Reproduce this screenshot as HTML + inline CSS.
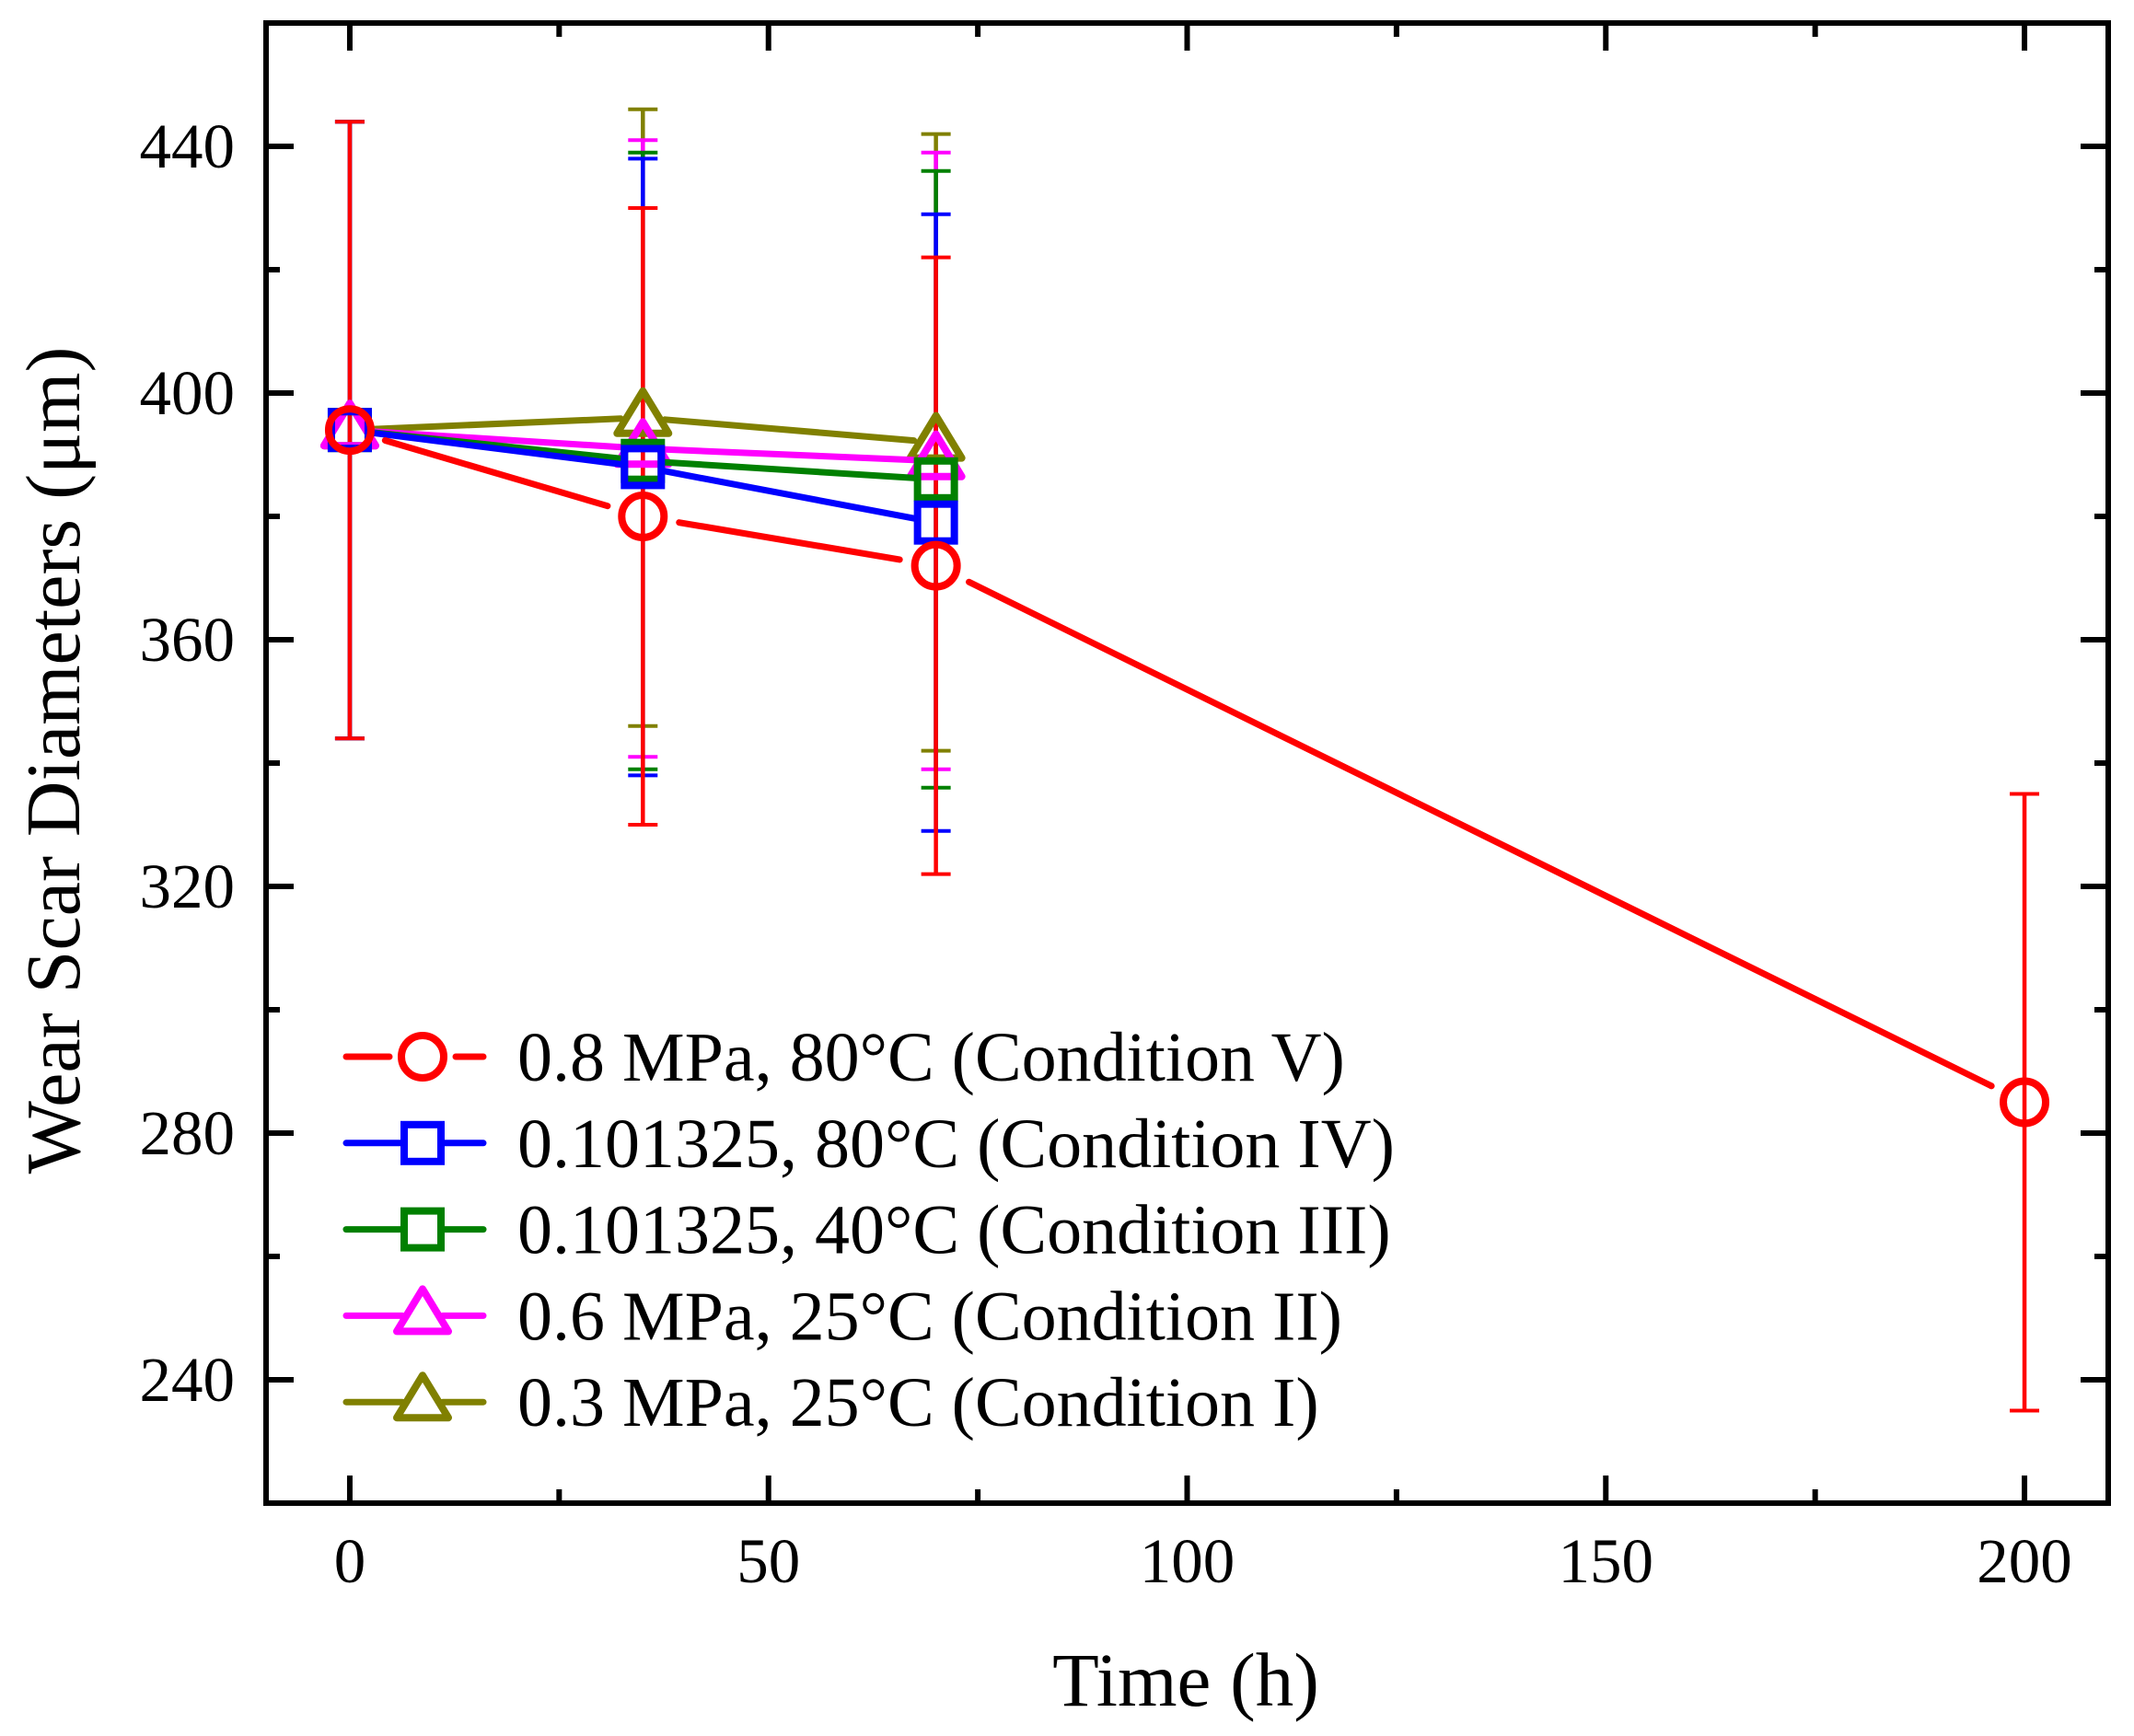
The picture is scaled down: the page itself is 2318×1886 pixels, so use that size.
<!DOCTYPE html>
<html><head><meta charset="utf-8"><style>
html,body{margin:0;padding:0;background:#fff}
svg{display:block;font-family:"Liberation Serif",serif}
</style></head><body>
<svg id="chart" width="2318" height="1886" viewBox="0 0 2318 1886"></svg>
<script>
const times = [0, 35, 70, 200];
const seriesNames = ["0.3 MPa, 25°C (Condition I)","0.6 MPa, 25°C (Condition II)","0.101325, 40°C (Condition III)","0.101325, 80°C (Condition IV)","0.8 MPa, 80°C (Condition V)"];
const condI = [394, 396, 392];
const condII = [394, 391, 389];
const condIII = [394, 389, 386];
const condIV = [394, 388, 379];
const condV = [394, 380, 372, 285];
const errI = [50, 50, 50];
const errII = [50, 50, 50];
const errIII = [50, 50, 50];
const errIV = [50, 50, 50];
const errV = [50, 50, 50, 50];
const xTicks = [0, 50, 100, 150, 200];
const yTicks = [240, 280, 320, 360, 400, 440];

const L=289,R=2290,T=25,B=1633,XMIN=-10,XMAX=210,YMIN=220,YMAX=460;
const sx=v=>L+(v-XMIN)/(XMAX-XMIN)*(R-L);
const sy=v=>B-(v-YMIN)/(YMAX-YMIN)*(B-T);
const svg=document.getElementById('chart');
const NS='http://www.w3.org/2000/svg';
function mk(tag,attrs,parent){const e=document.createElementNS(NS,tag);for(const k in attrs)e.setAttribute(k,attrs[k]);(parent||svg).appendChild(e);return e;}

const series=[
 {name:seriesNames[0],vals:condI,err:errI,color:'#808000',marker:'tri',key:'condition-1'},
 {name:seriesNames[1],vals:condII,err:errII,color:'#ff00ff',marker:'tri',key:'condition-2'},
 {name:seriesNames[2],vals:condIII,err:errIII,color:'#008000',marker:'sq',key:'condition-3'},
 {name:seriesNames[3],vals:condIV,err:errIV,color:'#0000ff',marker:'sq',key:'condition-4'},
 {name:seriesNames[4],vals:condV,err:errV,color:'#ff0000',marker:'circ',key:'condition-5'}
];

function marker(g,type,x,y,c){
  let e;
  if(type==='circ') e=mk('circle',{cx:x,cy:y,r:23,fill:'none',stroke:c,'stroke-width':8},g);
  else if(type==='sq') e=mk('rect',{x:x-20,y:y-20,width:40,height:40,fill:'none',stroke:c,'stroke-width':8},g);
  else e=mk('polygon',{points:`${x},${y-29} ${x+28},${y+17} ${x-28},${y+17}`,fill:'none',stroke:c,'stroke-width':8,'stroke-linejoin':'round'},g);
  return e;
}

series.forEach(s=>{
  const g=mk('g',{});
  
  
  s.vals.forEach((v,i)=>{
    const x=sx(times[i]),y1=sy(v+s.err[i]),y2=sy(v-s.err[i]);
    const l=mk('line',{x1:x,y1:y1,x2:x,y2:y2,stroke:s.color,'stroke-width':4.5},g);
    
    
    mk('line',{x1:x-16,y1:y1,x2:x+16,y2:y1,stroke:s.color,'stroke-width':4},g);
    mk('line',{x1:x-16,y1:y2,x2:x+16,y2:y2,stroke:s.color,'stroke-width':4},g);
  });
});
series.forEach(s=>{
  const g=mk('g',{});
  
  
  const gap=s.marker==='circ'?40:24;
  for(let i=0;i<s.vals.length-1;i++){
    const x1=sx(times[i]),y1=sy(s.vals[i]),x2=sx(times[i+1]),y2=sy(s.vals[i+1]);
    const d=Math.hypot(x2-x1,y2-y1),ux=(x2-x1)/d,uy=(y2-y1)/d;
    const ln=mk('line',{x1:x1+ux*gap,y1:y1+uy*gap,x2:x2-ux*gap,y2:y2-uy*gap,stroke:s.color,'stroke-width':7,'stroke-linecap':'round'},g);
    
    
  }
  s.vals.forEach((v,i)=>{
    const m=marker(g,s.marker,sx(times[i]),sy(v),s.color);
    
    
  });
});

const frame=mk('rect',{x:L,y:T,width:R-L,height:B-T,fill:'none',stroke:'#000','stroke-width':6});


xTicks.forEach(v=>{
  const x=sx(v);
  mk('line',{x1:x,y1:B,x2:x,y2:B-30,stroke:'#000','stroke-width':6});
  mk('line',{x1:x,y1:T,x2:x,y2:T+30,stroke:'#000','stroke-width':6});
  const t=mk('text',{x:x,y:1719,'text-anchor':'middle','font-size':69});
  t.textContent=v;
  
  
});
for(let v=25;v<210;v+=50){const x=sx(v);
  mk('line',{x1:x,y1:B,x2:x,y2:B-15,stroke:'#000','stroke-width':6});
  mk('line',{x1:x,y1:T,x2:x,y2:T+15,stroke:'#000','stroke-width':6});}
yTicks.forEach(v=>{
  const y=sy(v);
  mk('line',{x1:L,y1:y,x2:L+30,y2:y,stroke:'#000','stroke-width':6});
  mk('line',{x1:R,y1:y,x2:R-30,y2:y,stroke:'#000','stroke-width':6});
  const t=mk('text',{x:255,y:y+23,'text-anchor':'end','font-size':69});
  t.textContent=v;
  
  
});
for(let v=220;v<=460;v+=40){const y=sy(v);
  mk('line',{x1:L,y1:y,x2:L+15,y2:y,stroke:'#000','stroke-width':6});
  mk('line',{x1:R,y1:y,x2:R-15,y2:y,stroke:'#000','stroke-width':6});}

const xt=mk('text',{x:1288,y:1853,'text-anchor':'middle','font-size':83});
xt.textContent='Time (h)';


const yt=mk('text',{x:0,y:0,'text-anchor':'middle','font-size':84,transform:'translate(86,826) rotate(-90)'});
yt.textContent='Wear Scar Diameters (μm)';



const legendOrder=[4,3,2,1,0];
legendOrder.forEach((si,i)=>{
  const s=series[si];const y=1148+i*93.8;
  const g=mk('g',{});
  
  
  const gap=s.marker==='circ'?36:22;
  mk('line',{x1:376,y1:y,x2:459-gap,y2:y,stroke:s.color,'stroke-width':7,'stroke-linecap':'round'},g);
  mk('line',{x1:459+gap,y1:y,x2:525,y2:y,stroke:s.color,'stroke-width':7,'stroke-linecap':'round'},g);
  marker(g,s.marker,459,y,s.color);
  const t=mk('text',{x:562,y:y+26,'font-size':76},g);
  t.textContent=s.name;
});
</script>
</body></html>
